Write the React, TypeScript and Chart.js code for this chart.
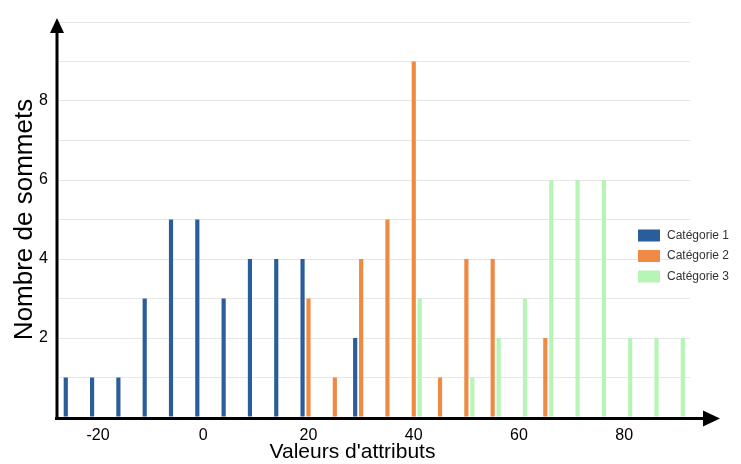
import React, { useEffect, useRef } from 'react';
import { Chart, registerables } from 'chart.js';

Chart.register(...registerables);

// Bin centres (attribute values) and counts per category
const binCenters = [-25, -20, -15, -10, -5, 0, 5, 10, 15, 20, 25, 30, 35, 40, 45, 50, 55, 60, 65, 70, 75, 80, 85, 90];
const categorie1 = [1, 1, 1, 3, 5, 5, 3, 4, 4, 4, 0, 2, 0, 0, 0, 0, 0, 0, 0, 0, 0, 0, 0, 0];
const categorie2 = [0, 0, 0, 0, 0, 0, 0, 0, 0, 3, 1, 4, 5, 9, 1, 4, 4, 0, 2, 0, 0, 0, 0, 0];
const categorie3 = [0, 0, 0, 0, 0, 0, 0, 0, 0, 0, 0, 0, 0, 3, 0, 1, 2, 3, 6, 6, 6, 2, 2, 2];
const seriesLabels = ['Catégorie 1', 'Catégorie 2', 'Catégorie 3'];
const seriesColors = ['#2a5e9a', '#ef8a45', '#b6f5b6'];
const xTickValues = [-20, 0, 20, 40, 60, 80];
const yTickLabels = [2, 4, 6, 8];
const xTitle = "Valeurs d'attributs";
const yTitle = 'Nombre de sommets';

const FONT = '"Liberation Sans", Arial, sans-serif';

const decorPlugin = {
  id: 'decor',
  afterDraw(chart: any) {
    const { ctx, chartArea } = chart;
    const { left, right, top, bottom } = chartArea;
    ctx.save();
    ctx.fillStyle = '#000';
    ctx.strokeStyle = '#000';
    ctx.lineWidth = 3;
    // y axis line + arrow
    ctx.beginPath();
    ctx.moveTo(left, bottom + 3);
    ctx.lineTo(left, top + 10);
    ctx.stroke();
    ctx.beginPath();
    ctx.moveTo(left, top - 4);
    ctx.lineTo(left - 7, top + 11);
    ctx.lineTo(left + 7, top + 11);
    ctx.closePath();
    ctx.fill();
    // x axis line + arrow
    const ay = bottom + 1.5;
    ctx.beginPath();
    ctx.moveTo(left - 2, ay);
    ctx.lineTo(right + 15, ay);
    ctx.stroke();
    ctx.beginPath();
    ctx.moveTo(right + 30, ay);
    ctx.lineTo(right + 13, ay - 8);
    ctx.lineTo(right + 13, ay + 8);
    ctx.closePath();
    ctx.fill();

    // x title
    ctx.font = `21px ${FONT}`;
    ctx.textAlign = 'center';
    ctx.textBaseline = 'middle';
    ctx.fillStyle = '#000';
    ctx.fillText(xTitle, (left + right) / 2 - 21, bottom + 35);

    // legend
    const lx = right - 52;
    const ly0 = (top + bottom) / 2 + 16;
    ctx.font = `12px ${FONT}`;
    ctx.textAlign = 'left';
    chart.data.datasets.forEach((ds: any, i: number) => {
      const cy = ly0 + i * 20.5;
      ctx.fillStyle = ds.backgroundColor;
      ctx.fillRect(lx, cy - 6, 22, 12);
      ctx.fillStyle = '#333';
      ctx.fillText(ds.label, lx + 29, cy);
    });
    ctx.restore();
  },
};

export default function App() {
  const ref = useRef<HTMLCanvasElement | null>(null);
  useEffect(() => {
    if (!ref.current) return;
    const series = [categorie1, categorie2, categorie3];
    const chart = new Chart(ref.current, {
      type: 'bar',
      data: {
        datasets: series.map((vals, s) => ({
          label: seriesLabels[s],
          data: binCenters.map((x, i) => ({ x, y: vals[i] })),
          backgroundColor: seriesColors[s],
          borderWidth: 0,
          categoryPercentage: 0.68,
          barPercentage: 0.7,
        })),
      },
      options: {
        responsive: false,
        animation: false,
        layout: { padding: { top: 22, right: 51, left: 0, bottom: 0 } },
        plugins: {
          legend: { display: false },
          tooltip: { enabled: false },
        },
        scales: {
          x: {
            type: 'linear',
            offset: false,
            min: -27.8,
            max: 92.5,
            grid: { display: false, drawTicks: false, offset: false },
            border: { display: false },
            afterBuildTicks: (scale: any) => {
              scale.ticks = xTickValues.map((v) => ({ value: v }));
            },
            afterFit: (scale: any) => {
              scale.height = 47;
            },
            ticks: {
              padding: 9,
              color: '#000',
              font: { family: FONT, size: 16 },
              maxRotation: 0,
            },
          },
          y: {
            min: 0,
            max: 10,
            grid: { color: '#e6e6e6', lineWidth: 1, drawTicks: false },
            border: { display: false },
            afterFit: (scale: any) => {
              scale.width = 57;
            },
            title: {
              display: true,
              text: yTitle,
              color: '#000',
              font: { family: FONT, size: 26 },
              padding: { top: 9, bottom: 0 },
            },
            ticks: {
              stepSize: 1,
              padding: 9,
              color: '#000',
              font: { family: FONT, size: 16 },
              callback: (v: any) => (yTickLabels.includes(Number(v)) ? String(v) : ''),
            },
          },
        },
      } as any,
      plugins: [decorPlugin],
    });
    return () => chart.destroy();
  }, []);
  return (
    <div style={{ position: 'absolute', left: 0, top: 0, width: 741, height: 464, background: '#fff' }}>
      <canvas ref={ref} width={741} height={464} style={{ display: 'block' }} />
    </div>
  );
}
